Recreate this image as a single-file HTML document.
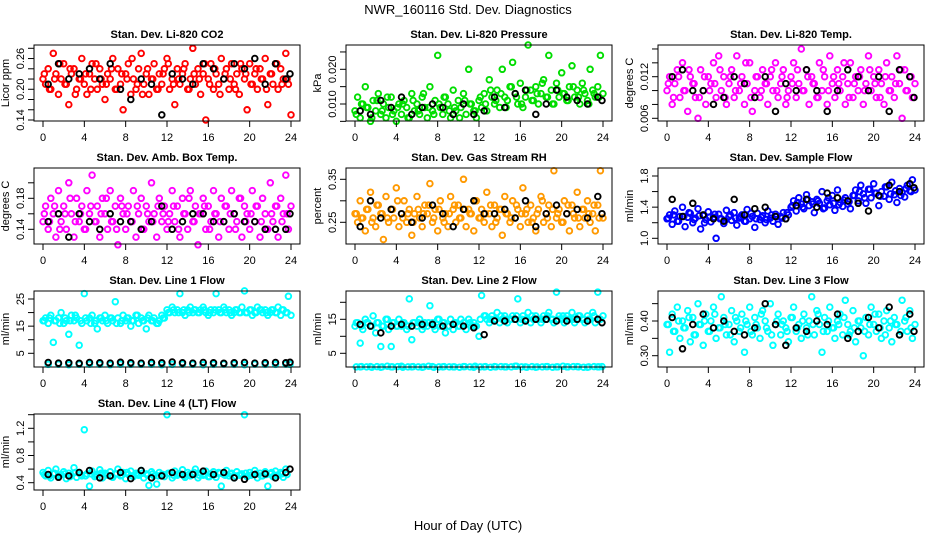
<!DOCTYPE html>
<html><head><meta charset="utf-8"><style>
body{margin:0;background:#fff;}
svg{display:block;font-family:"Liberation Sans",sans-serif;}
</style></head><body>
<svg id="chart" width="936" height="540" viewBox="0 0 936 540">
<text x="468" y="14" text-anchor="middle" font-size="13">NWR_160116  Std. Dev. Diagnostics</text>
<text x="468" y="530" text-anchor="middle" font-size="13">Hour of Day (UTC)</text>
</svg>
<script>
const T=[0,0.25,0.5,0.75,1,1.25,1.5,1.75,2,2.25,2.5,2.75,3,3.25,3.5,3.75,4,4.25,4.5,4.75,5,5.25,5.5,5.75,6,6.25,6.5,6.75,7,7.25,7.5,7.75,8,8.25,8.5,8.75,9,9.25,9.5,9.75,10,10.25,10.5,10.75,11,11.25,11.5,11.75,12,12.25,12.5,12.75,13,13.25,13.5,13.75,14,14.25,14.5,14.75,15,15.25,15.5,15.75,16,16.25,16.5,16.75,17,17.25,17.5,17.75,18,18.25,18.5,18.75,19,19.25,19.5,19.75,20,20.25,20.5,20.75,21,21.25,21.5,21.75,22,22.25,22.5,22.75,23,23.25,23.5,23.75,24];
const TH=[0.125,0.625,1.125,1.625,2.125,2.625,3.125,3.625,4.125,4.625,5.125,5.625,6.125,6.625,7.125,7.625,8.125,8.625,9.125,9.625,10.125,10.625,11.125,11.625,12.125,12.625,13.125,13.625,14.125,14.625,15.125,15.625,16.125,16.625,17.125,17.625,18.125,18.625,19.125,19.625,20.125,20.625,21.125,21.625,22.125,22.625,23.125,23.625];
const TB=[0.5,1.5,2.5,3.5,4.5,5.5,6.5,7.5,8.5,9.5,10.5,11.5,12.5,13.5,14.5,15.5,16.5,17.5,18.5,19.5,20.5,21.5,22.5,23.5,23.9];
const xTicks=[0,4,8,12,16,20,24];

const co2=[0.22,0.21,0.24,0.20,0.27,0.23,0.19,0.22,0.25,0.21,0.17,0.23,0.24,0.20,0.22,0.26,0.21,0.19,0.23,0.25,0.22,0.20,0.24,0.21,0.18,0.23,0.22,0.26,0.20,0.24,0.21,0.16,0.23,0.25,0.19,0.22,0.20,0.24,0.27,0.21,0.23,0.19,0.22,0.25,0.20,0.23,0.21,0.24,0.26,0.20,0.22,0.17,0.24,0.21,0.23,0.25,0.20,0.22,0.28,0.21,0.24,0.19,0.23,0.14,0.22,0.25,0.20,0.23,0.21,0.26,0.22,0.24,0.20,0.25,0.21,0.23,0.19,0.24,0.22,0.16,0.25,0.21,0.23,0.20,0.24,0.22,0.26,0.17,0.23,0.21,0.25,0.20,0.24,0.22,0.27,0.21,0.15];
const co2B=[0.23,0.20,0.22,0.25,0.21,0.24,0.19,0.22,0.23,0.20,0.25,0.22,0.21,0.24,0.20,0.23,0.22,0.26,0.21,0.19,0.24,0.22,0.20,0.23,0.25,0.21,0.22,0.24,0.20,0.23,0.22,0.25,0.21,0.24,0.19,0.23,0.22,0.20,0.25,0.23,0.21,0.24,0.22,0.20,0.23,0.25,0.21,0.22];
const co2Black=[0.21,0.25,0.22,0.23,0.24,0.22,0.25,0.20,0.18,0.22,0.21,0.15,0.23,0.22,0.21,0.25,0.24,0.22,0.25,0.24,0.26,0.21,0.25,0.22,0.23];
const pres=[0.008,0.012,0.006,0.010,0.015,0.009,0.005,0.011,0.008,0.013,0.007,0.010,0.006,0.009,0.012,0.008,0.005,0.010,0.007,0.011,0.009,0.006,0.013,0.008,0.010,0.007,0.012,0.009,0.006,0.015,0.008,0.011,0.024,0.009,0.007,0.012,0.010,0.006,0.014,0.008,0.011,0.009,0.013,0.007,0.020,0.010,0.008,0.006,0.011,0.009,0.013,0.008,0.017,0.012,0.010,0.014,0.009,0.020,0.012,0.011,0.015,0.022,0.013,0.010,0.016,0.009,0.012,0.027,0.014,0.011,0.015,0.010,0.013,0.017,0.012,0.024,0.014,0.010,0.016,0.012,0.019,0.013,0.011,0.015,0.021,0.012,0.014,0.010,0.016,0.013,0.011,0.020,0.014,0.012,0.015,0.024,0.013];
const presB=[0.007,0.010,0.009,0.006,0.011,0.008,0.012,0.007,0.009,0.010,0.006,0.011,0.008,0.013,0.009,0.007,0.010,0.012,0.008,0.009,0.006,0.011,0.010,0.008,0.012,0.010,0.014,0.011,0.013,0.009,0.015,0.012,0.010,0.014,0.011,0.013,0.016,0.012,0.010,0.014,0.013,0.011,0.015,0.012,0.014,0.010,0.013,0.012];
const presBlack=[0.008,0.007,0.011,0.009,0.012,0.007,0.009,0.010,0.009,0.007,0.010,0.007,0.008,0.012,0.009,0.013,0.014,0.007,0.010,0.014,0.012,0.011,0.010,0.012,0.011];
const temp=[0.010,0.012,0.008,0.011,0.013,0.009,0.014,0.010,0.007,0.012,0.011,0.009,0.006,0.013,0.010,0.008,0.012,0.011,0.014,0.009,0.015,0.010,0.012,0.008,0.011,0.013,0.009,0.015,0.010,0.012,0.008,0.011,0.014,0.007,0.010,0.012,0.009,0.013,0.011,0.008,0.012,0.010,0.014,0.009,0.011,0.013,0.008,0.010,0.012,0.014,0.009,0.011,0.016,0.010,0.013,0.008,0.012,0.011,0.009,0.014,0.010,0.012,0.008,0.015,0.011,0.009,0.013,0.010,0.012,0.008,0.011,0.014,0.009,0.012,0.010,0.013,0.008,0.011,0.015,0.010,0.012,0.009,0.013,0.011,0.008,0.014,0.010,0.012,0.009,0.015,0.011,0.006,0.013,0.010,0.012,0.009,0.011];
const tempB=[0.011,0.009,0.012,0.010,0.013,0.011,0.009,0.012,0.010,0.011,0.013,0.009,0.012,0.010,0.011,0.014,0.009,0.012,0.010,0.011,0.013,0.010,0.012,0.009,0.011,0.013,0.010,0.012,0.011,0.009,0.013,0.010,0.012,0.011,0.014,0.009,0.011,0.012,0.010,0.013,0.011,0.009,0.012,0.010,0.011,0.013,0.010,0.012];
const tempBlack=[0.012,0.013,0.010,0.010,0.008,0.009,0.012,0.011,0.009,0.012,0.007,0.011,0.010,0.013,0.010,0.007,0.010,0.013,0.012,0.010,0.012,0.007,0.013,0.012,0.009];
const amb=[0.15,0.17,0.14,0.18,0.16,0.13,0.19,0.15,0.17,0.14,0.20,0.16,0.13,0.18,0.15,0.17,0.14,0.19,0.16,0.21,0.15,0.17,0.13,0.18,0.16,0.14,0.19,0.15,0.17,0.12,0.18,0.16,0.14,0.17,0.15,0.19,0.13,0.16,0.18,0.14,0.17,0.15,0.20,0.16,0.13,0.18,0.15,0.17,0.14,0.16,0.19,0.15,0.17,0.13,0.18,0.16,0.14,0.19,0.15,0.17,0.12,0.16,0.18,0.14,0.17,0.15,0.19,0.16,0.13,0.18,0.15,0.17,0.14,0.19,0.16,0.15,0.18,0.13,0.17,0.16,0.14,0.19,0.15,0.17,0.13,0.18,0.16,0.14,0.20,0.15,0.17,0.13,0.18,0.16,0.21,0.14,0.17];
const ambB=[0.16,0.15,0.17,0.14,0.16,0.18,0.15,0.16,0.14,0.17,0.15,0.16,0.18,0.15,0.14,0.17,0.16,0.15,0.17,0.14,0.16,0.15,0.17,0.16,0.15,0.17,0.14,0.16,0.18,0.15,0.16,0.17,0.14,0.16,0.15,0.17,0.16,0.14,0.18,0.15,0.16,0.17,0.15,0.14,0.16,0.17,0.15,0.16];
const ambBlack=[0.15,0.16,0.13,0.16,0.15,0.14,0.16,0.15,0.15,0.14,0.15,0.17,0.14,0.15,0.16,0.16,0.15,0.15,0.16,0.15,0.15,0.14,0.14,0.14,0.16];
const rh=[0.27,0.25,0.30,0.26,0.23,0.28,0.32,0.26,0.24,0.29,0.27,0.21,0.31,0.25,0.28,0.26,0.33,0.24,0.27,0.30,0.25,0.28,0.22,0.27,0.31,0.26,0.24,0.29,0.27,0.34,0.25,0.28,0.23,0.30,0.26,0.27,0.24,0.31,0.28,0.25,0.29,0.26,0.35,0.24,0.28,0.27,0.23,0.30,0.26,0.28,0.25,0.32,0.27,0.24,0.29,0.26,0.28,0.22,0.31,0.27,0.25,0.30,0.26,0.28,0.24,0.33,0.27,0.25,0.29,0.26,0.23,0.28,0.31,0.25,0.27,0.29,0.24,0.37,0.26,0.28,0.25,0.30,0.27,0.23,0.29,0.26,0.32,0.24,0.28,0.26,0.30,0.25,0.27,0.23,0.29,0.37,0.26];
const rhB=[0.27,0.26,0.28,0.25,0.29,0.27,0.26,0.28,0.30,0.26,0.27,0.25,0.28,0.27,0.29,0.26,0.28,0.25,0.27,0.29,0.26,0.28,0.27,0.30,0.26,0.27,0.29,0.25,0.28,0.27,0.26,0.29,0.27,0.28,0.25,0.27,0.30,0.26,0.28,0.27,0.25,0.29,0.27,0.26,0.28,0.27,0.29,0.26];
const rhBlack=[0.24,0.30,0.26,0.28,0.27,0.25,0.26,0.29,0.27,0.24,0.28,0.30,0.27,0.27,0.28,0.26,0.30,0.24,0.27,0.29,0.27,0.28,0.26,0.31,0.27];
const sflow=[1.25,1.30,1.18,1.35,1.22,1.28,1.40,1.15,1.27,1.32,1.20,1.26,1.38,1.12,1.29,1.24,1.34,1.21,1.27,1.00,1.31,1.25,1.19,1.36,1.28,1.23,1.33,1.17,1.26,1.30,1.22,1.37,1.25,1.28,1.14,1.32,1.24,1.29,1.20,1.35,1.26,1.22,1.31,1.18,1.28,1.33,1.25,1.30,1.40,1.48,1.35,1.52,1.44,1.38,1.56,1.42,1.47,1.33,1.50,1.45,1.60,1.39,1.48,1.43,1.55,1.36,1.62,1.46,1.41,1.52,1.44,1.38,1.55,1.62,1.48,1.68,1.57,1.45,1.63,1.52,1.70,1.58,1.42,1.60,1.54,1.66,1.50,1.72,1.56,1.46,1.64,1.59,1.53,1.68,1.61,1.75,1.62];
const sflowB=[1.26,1.30,1.22,1.28,1.33,1.24,1.29,1.20,1.27,1.31,1.25,1.23,1.30,1.26,1.28,1.22,1.32,1.25,1.27,1.24,1.30,1.28,1.26,1.33,1.42,1.46,1.40,1.50,1.44,1.48,1.38,1.52,1.45,1.43,1.49,1.47,1.55,1.60,1.52,1.63,1.58,1.54,1.66,1.57,1.61,1.55,1.64,1.60];
const sflowBlack=[1.50,1.28,1.45,1.30,1.25,1.22,1.50,1.30,1.38,1.40,1.28,1.25,1.42,1.50,1.40,1.58,1.52,1.48,1.45,1.35,1.55,1.68,1.60,1.70,1.65];
const l1=[17,18,16,19,9,17,18,20,16,17,12,19,17,18,8,16,27,17,18,19,16,14,18,17,19,16,18,17,24,18,16,19,17,18,15,17,19,16,18,17,14,19,17,18,16,17,19,18,21,20,22,20,21,27,20,19,21,22,20,21,20,21,22,20,19,21,20,27,21,20,22,20,21,19,20,21,20,22,28,20,21,19,20,22,21,20,21,19,20,21,20,22,19,21,20,26,19];
const l1B=[17,18,17,16,18,17,19,17,18,16,17,18,17,18,16,17,18,17,19,17,18,17,16,18,20,21,20,21,20,21,20,21,20,21,20,21,20,21,20,20,21,20,21,20,21,20,21,20];
const l1Low=[0.9,1.0,0.8,0.9,1.0,0.9,0.8,1.0,0.9,0.9,1.0,0.8,0.9,1.0,0.9,0.8,0.9,1.0,0.9,0.8,1.0,0.9,0.9,1.0,0.9];
const l1Black=[1.6,1.4,1.5,1.3,1.6,1.5,1.4,1.7,1.5,1.4,1.6,1.5,1.8,1.5,1.4,1.6,1.5,1.3,1.5,1.6,1.4,1.5,1.6,1.5,1.7];
const l2=[13,14,8,12,15,14,13,16,11,14,7,13,15,12,7,14,13,15,13,14,12,21,9,14,13,15,12,14,13,19,14,12,15,13,14,11,13,15,12,14,13,15,14,12,15,13,14,13,10,22,16,15,14,16,15,17,14,15,16,14,15,16,15,21,14,16,15,17,14,15,16,15,14,16,15,17,15,14,23,16,15,14,16,15,17,14,15,16,15,14,16,15,17,14,23,15,16];
const l2B=[14,13,14,13,14,13,15,14,13,14,13,14,14,13,14,13,15,14,13,14,13,14,14,13,15,16,15,15,16,15,15,16,15,15,16,15,15,16,15,15,16,15,15,16,15,15,16,15];
const l2Low=[1.0,1.1,0.9,1.0,1.2,1.0,0.9,1.1,1.0,1.0,1.1,0.9,1.0,1.1,1.0,1.2,1.0,0.9,1.1,1.0,1.0,1.1,0.9,1.0,1.1];
const l2Low2=[1.0,1.1,1.0,0.9,1.1,1.0,1.2,1.0,1.1,0.9,1.0,1.1,1.0,1.0,1.2,0.9,1.0,1.1,1.0,1.0,0.9,1.1,1.0,1.2,1.0,1.1,0.9,1.0,1.1,1.0,1.0,1.2,1.0,0.9,1.1,1.0,1.0,1.1,0.9,1.0,1.2,1.0,1.1,1.0,0.9,1.0,1.1,1.0];
const l2Black=[13.5,13,11,13,13.5,13,13.5,13.5,13,13.5,13,12.5,10.5,14.5,14.5,15,14.5,15,15,14.5,14.5,15,14.5,15,14];
const l3=[0.39,0.31,0.42,0.37,0.44,0.35,0.40,0.38,0.43,0.34,0.41,0.36,0.45,0.39,0.33,0.42,0.37,0.40,0.44,0.35,0.38,0.47,0.41,0.36,0.39,0.43,0.34,0.40,0.37,0.42,0.31,0.39,0.44,0.36,0.41,0.38,0.35,0.43,0.40,0.37,0.45,0.33,0.39,0.42,0.36,0.40,0.38,0.34,0.41,0.44,0.37,0.39,0.35,0.42,0.38,0.40,0.47,0.36,0.43,0.39,0.31,0.41,0.37,0.44,0.38,0.35,0.40,0.42,0.36,0.46,0.39,0.37,0.43,0.34,0.40,0.38,0.30,0.41,0.36,0.44,0.39,0.37,0.42,0.35,0.40,0.43,0.38,0.34,0.41,0.39,0.36,0.46,0.40,0.37,0.43,0.35,0.39];
const l3B=[0.39,0.37,0.40,0.38,0.41,0.36,0.39,0.40,0.37,0.42,0.38,0.39,0.36,0.41,0.38,0.40,0.37,0.39,0.42,0.38,0.36,0.40,0.39,0.37,0.41,0.38,0.40,0.36,0.39,0.42,0.37,0.40,0.38,0.39,0.41,0.36,0.38,0.40,0.37,0.39,0.42,0.38,0.36,0.40,0.39,0.37,0.41,0.38];
const l3Black=[0.41,0.32,0.39,0.42,0.38,0.40,0.37,0.36,0.38,0.45,0.39,0.33,0.38,0.37,0.40,0.39,0.42,0.35,0.37,0.41,0.38,0.44,0.36,0.42,0.37];
const l4=[0.55,0.50,0.58,0.47,0.53,0.60,0.49,0.52,0.56,0.46,0.54,0.51,0.62,0.48,0.55,0.50,1.18,0.53,0.35,0.57,0.49,0.52,0.59,0.47,0.54,0.51,0.56,0.48,0.53,0.60,0.50,0.55,0.46,0.52,0.57,0.49,0.54,0.51,0.58,0.47,0.53,0.36,0.56,0.50,0.38,0.55,0.52,0.49,1.40,0.54,0.47,0.57,0.51,0.53,0.59,0.48,0.55,0.50,0.52,0.60,0.47,0.54,0.51,0.57,0.49,0.53,0.56,0.48,0.55,0.35,0.52,0.58,0.50,0.54,0.47,0.56,0.51,0.53,1.40,0.49,0.55,0.52,0.58,0.47,0.54,0.50,0.56,0.35,0.53,0.49,0.57,0.51,0.55,0.48,0.60];
const l4B=[0.52,0.50,0.54,0.51,0.53,0.49,0.55,0.52,0.50,0.53,0.51,0.54,0.52,0.49,0.53,0.51,0.55,0.50,0.52,0.54,0.51,0.53,0.50,0.52,0.54,0.51,0.53,0.50,0.52,0.55,0.51,0.53,0.49,0.52,0.54,0.51,0.53,0.50,0.52,0.54,0.51,0.53,0.50,0.52,0.55,0.51,0.53,0.52];
const l4Black=[0.52,0.48,0.50,0.55,0.58,0.47,0.50,0.55,0.46,0.58,0.47,0.50,0.55,0.52,0.52,0.57,0.52,0.55,0.47,0.45,0.52,0.53,0.47,0.55,0.60];

const panels=[
 {name:'co2',title:'Stan. Dev. Li-820 CO2',ylab:'Licor ppm',col:0,row:0,color:'#ff0000',vals:co2,vals2:co2B,low:null,low2:null,black:co2Black,cal:[0.14,120,0.28,48.3],ticks:[0.14,0.16,0.18,0.20,0.22,0.24,0.26,0.28],labels:['0.14','0.20','0.26']},
 {name:'pressure',title:'Stan. Dev. Li-820 Pressure',ylab:'kPa',col:1,row:0,color:'#00dd00',vals:pres,vals2:presB,low:null,low2:null,black:presBlack,cal:[0.01,104,0.02,69.3],ticks:[0.005,0.010,0.015,0.020,0.025],labels:['0.010','0.020']},
 {name:'temp',title:'Stan. Dev. Li-820 Temp.',ylab:'degrees C',col:2,row:0,color:'#ff00ff',vals:temp,vals2:tempB,low:null,low2:null,black:tempBlack,cal:[0.006,118.3,0.012,76.7],ticks:[0.006,0.008,0.010,0.012,0.014,0.016],labels:['0.006','0.012']},
 {name:'amb-box-temp',title:'Stan. Dev. Amb. Box Temp.',ylab:'degrees C',col:0,row:1,color:'#ff00ff',vals:amb,vals2:ambB,low:null,low2:null,black:ambBlack,cal:[0.14,229.3,0.18,198.3],ticks:[0.14,0.16,0.18,0.20],labels:['0.14','0.18']},
 {name:'gas-stream-rh',title:'Stan. Dev. Gas Stream RH',ylab:'percent',col:1,row:1,color:'#ff9900',vals:rh,vals2:rhB,low:null,low2:null,black:rhBlack,cal:[0.25,222.3,0.35,179.3],ticks:[0.25,0.30,0.35],labels:['0.25','0.35']},
 {name:'sample-flow',title:'Stan. Dev. Sample Flow',ylab:'ml/min',col:2,row:1,color:'#0000ff',vals:sflow,vals2:sflowB,low:null,low2:null,black:sflowBlack,cal:[1.0,238.3,1.8,176],ticks:[1.0,1.2,1.4,1.6,1.8],labels:['1.0','1.4','1.8']},
 {name:'line1-flow',title:'Stan. Dev. Line 1 Flow',ylab:'ml/min',col:0,row:2,color:'#00ffff',vals:l1,vals2:l1B,low:l1Low,low2:null,black:l1Black,cal:[5,353.3,25,299],ticks:[5,10,15,20,25],labels:['5','15','25']},
 {name:'line2-flow',title:'Stan. Dev. Line 2 Flow',ylab:'ml/min',col:1,row:2,color:'#00ffff',vals:l2,vals2:l2B,low:l2Low,low2:l2Low2,black:l2Black,cal:[5,353.3,15,319.3],ticks:[5,10,15,20],labels:['5','15']},
 {name:'line3-flow',title:'Stan. Dev. Line 3 Flow',ylab:'ml/min',col:2,row:2,color:'#00ffff',vals:l3,vals2:l3B,low:null,low2:null,black:l3Black,cal:[0.30,355.7,0.40,321],ticks:[0.30,0.35,0.40,0.45],labels:['0.30','0.40']},
 {name:'line4-flow',title:'Stan. Dev. Line 4 (LT) Flow',ylab:'ml/min',col:0,row:3,color:'#00ffff',vals:l4,vals2:l4B,low:null,low2:null,black:l4Black,cal:[0.4,482.7,1.2,428.3],ticks:[0.4,0.6,0.8,1.0,1.2,1.4],labels:['0.4','0.8','1.2']}
];
const NS='http://www.w3.org/2000/svg';
const svg=document.getElementById('chart');
function mk(tag,attrs,parent){const e=document.createElementNS(NS,tag);for(const k in attrs)e.setAttribute(k,attrs[k]);(parent||svg).appendChild(e);return e;}
panels.forEach(p=>{
 const g=mk('g',{});
 
 
 const L=34+312*p.col,R=300+312*p.col,top=45+123*p.row,bot=top+76;
 const x0=43+312*p.col,x24=291+312*p.col;
 const xs=h=>x0+(x24-x0)*h/24;
 const [v1,y1,v2,y2]=p.cal;
 const ys=v=>y1+(v-v1)*(y2-y1)/(v2-v1);
 const t=mk('text',{x:(L+R)/2,y:top-7,'text-anchor':'middle','font-size':'11','font-weight':'bold'},g);
 t.textContent=p.title;
 
 
 const pts=mk('g',{fill:'none','stroke-width':'1.9'},g);
 
 
 const draw=(times,vals,color)=>{vals.forEach((v,i)=>{if(times[i]===undefined)return;
   const c=mk('circle',{cx:xs(times[i]).toFixed(1),cy:ys(v).toFixed(1),r:'2.8',stroke:color},pts);
   
   });};
 draw(T,p.vals,p.color);
 draw(TH,p.vals2,p.color);
 if(p.low)draw(TB,p.low,p.color);
 if(p.low2)draw(TH,p.low2,p.color);
 draw(TB,p.black,'#000');
 const box=mk('rect',{x:L,y:top,width:R-L,height:bot-top,fill:'none',stroke:'#000','stroke-width':'1'},g);
 
 
 const xa=mk('g',{},g);
 
 
 mk('line',{x1:x0,x2:x24,y1:bot,y2:bot,stroke:'#000'},xa);
 xTicks.forEach(h=>{mk('line',{x1:xs(h),x2:xs(h),y1:bot,y2:bot+6,stroke:'#000'},xa);
   const tl=mk('text',{x:xs(h),y:bot+20,'text-anchor':'middle','font-size':'11'},xa);tl.textContent=h;
   
   });
 const ya=mk('g',{},g);
 
 
 const ty=p.ticks.map(ys);
 mk('line',{x1:L,x2:L,y1:Math.max(...ty),y2:Math.min(...ty),stroke:'#000'},ya);
 p.ticks.forEach(v=>{const y=ys(v);mk('line',{x1:L-6,x2:L,y1:y,y2:y,stroke:'#000'},ya);});
 p.labels.forEach(s=>{const y=ys(parseFloat(s));
   const tl=mk('text',{x:0,y:0,'text-anchor':'middle','font-size':'11',transform:`translate(${L-10},${y}) rotate(-90)`},ya);tl.textContent=s;
   
   });
 const yl=mk('text',{x:0,y:0,'text-anchor':'middle','font-size':'11',transform:`translate(${L-25},${(top+bot)/2}) rotate(-90)`},g);
 yl.textContent=p.ylab;
 
 
});
</script>
</body></html>
